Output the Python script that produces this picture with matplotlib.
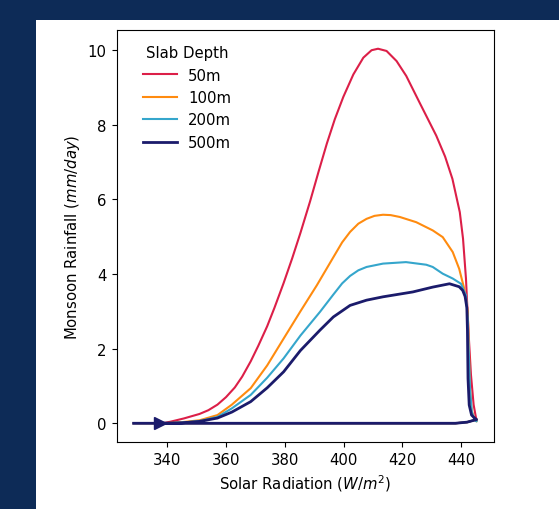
import matplotlib
matplotlib.use("Agg")
import matplotlib.pyplot as plt
from matplotlib.patches import Rectangle

plt.rcParams['font.size'] = 10.75

# lower branch (shared by all slab depths), radiation increasing
low_x = [328.6, 337.5, 438.0, 442.0, 445.2]
low_y = [0.0, 0.0, 0.0, 0.03, 0.1]
arrow_x = 337.5

# upper branches, read left to right
red_x = [338.5, 341, 345.7, 351, 354, 357.1, 360, 363, 365.5, 368.4, 371, 374, 376.5,
         379.6, 382.5, 385.3, 388.6, 391.5, 394.3, 397, 399.9, 403.3, 406.7,
         409.5, 411.7, 414.6, 418, 421.3, 425.8, 431.5, 434.5, 437.0, 439.5,
         440.6, 441.6, 442.5, 443.3, 444.2, 445.0, 445.3]
red_y = [0.0, 0.04, 0.13, 0.25, 0.35, 0.5, 0.7, 0.96, 1.25, 1.66, 2.08, 2.6, 3.1,
         3.76, 4.42, 5.1, 5.95, 6.75, 7.5, 8.15, 8.75, 9.35, 9.8,
         10.0, 10.04, 9.98, 9.71, 9.31, 8.6, 7.71, 7.15, 6.55, 5.66,
         4.95, 3.88, 2.4, 1.3, 0.5, 0.15, 0.08]

org_x = [338.5, 345, 351, 357.1, 362, 368.4, 374, 379.6, 385.3, 390.9, 396.5, 399.5,
         402.2, 405, 407.8, 410.5, 413.4, 416, 419.1, 424.7, 430.3, 433.7, 437.1,
         439.3, 441.0, 442.2, 442.6, 442.9, 443.5, 444.5, 445.2]
org_y = [0.0, 0.03, 0.08, 0.22, 0.5, 0.94, 1.55, 2.27, 3.0, 3.7, 4.45, 4.85,
         5.13, 5.35, 5.48, 5.56, 5.59, 5.58, 5.53, 5.39, 5.17, 4.99, 4.59,
         4.14, 3.61, 3.0, 2.0, 1.0, 0.35, 0.1, 0.05]

blu_x = [338.5, 345, 351, 357.1, 362, 368.4, 374, 379.6, 385.3, 392, 396.5, 399.5,
         402.2, 405, 407.8, 413.4, 421.2, 428.1, 430.3, 433.7, 437.1, 439.9, 441.6,
         442.2, 442.6, 443.0, 443.6, 444.5, 445.2]
blu_y = [0.0, 0.02, 0.06, 0.17, 0.4, 0.76, 1.22, 1.74, 2.35, 2.99, 3.45, 3.75,
         3.95, 4.1, 4.19, 4.28, 4.32, 4.25, 4.19, 4.01, 3.88, 3.74, 3.43,
         2.8, 1.8, 0.9, 0.3, 0.1, 0.05]

nav_x = [338.5, 345, 351, 357.1, 362, 368.4, 374, 379.6, 385.3, 392, 396.5, 402.2,
         407.8, 413.4, 423.5, 430.3, 436.0, 439.3, 440.5, 441.3, 441.9, 442.1,
         442.3, 442.7, 443.5, 444.4, 445.2]
nav_y = [0.0, 0.01, 0.05, 0.14, 0.3, 0.58, 0.95, 1.38, 1.95, 2.5, 2.85, 3.16,
         3.3, 3.39, 3.52, 3.65, 3.74, 3.66, 3.56, 3.4, 3.1, 2.5,
         1.2, 0.49, 0.22, 0.15, 0.1]

labels = ['50m', '100m', '200m', '500m']
colors = ['#dc1f48', '#ff8b0f', '#35a6cc', '#1b1b6b']
series = [(red_x, red_y), (org_x, org_y), (blu_x, blu_y), (nav_x, nav_y)]

fig = plt.figure(figsize=(5.59, 5.10), dpi=100, facecolor='#0d2b57')
fig.patches.append(Rectangle((36 / 559, 0), 1 - 36 / 559, 1 - 21 / 510,
                             transform=fig.transFigure, facecolor='white',
                             edgecolor='none', zorder=-5))
ax = fig.add_axes([116.5 / 559, 67 / 510, 377.5 / 559, 412 / 510])

for (ux, uy), lab, col in zip(series, labels, colors):
    # go up along the lower branch, then back down along the upper one
    px = low_x + ux[::-1]
    py = low_y + uy[::-1]
    lw = 2.0 if lab == '500m' else 1.5
    ax.plot(px, py, color=col, lw=lw, label=lab)

ax.plot([arrow_x], [0], marker='>', color=colors[-1], markersize=9, ls='none')

ax.set_xticks([340, 360, 380, 400, 420, 440])
ax.set_yticks([0, 2, 4, 6, 8, 10])
ax.set_xlabel('Solar Radiation ($W/m^2$)')
ax.set_ylabel('Monsoon Rainfall ($mm/day$)')
ax.legend(title='Slab Depth', loc='upper left', frameon=False,
          bbox_to_anchor=(0.055, 0.978), borderaxespad=0,
          handlelength=2.25, handletextpad=0.75, labelspacing=0.5)

fig.savefig('out.png', dpi=100, facecolor=fig.get_facecolor())
